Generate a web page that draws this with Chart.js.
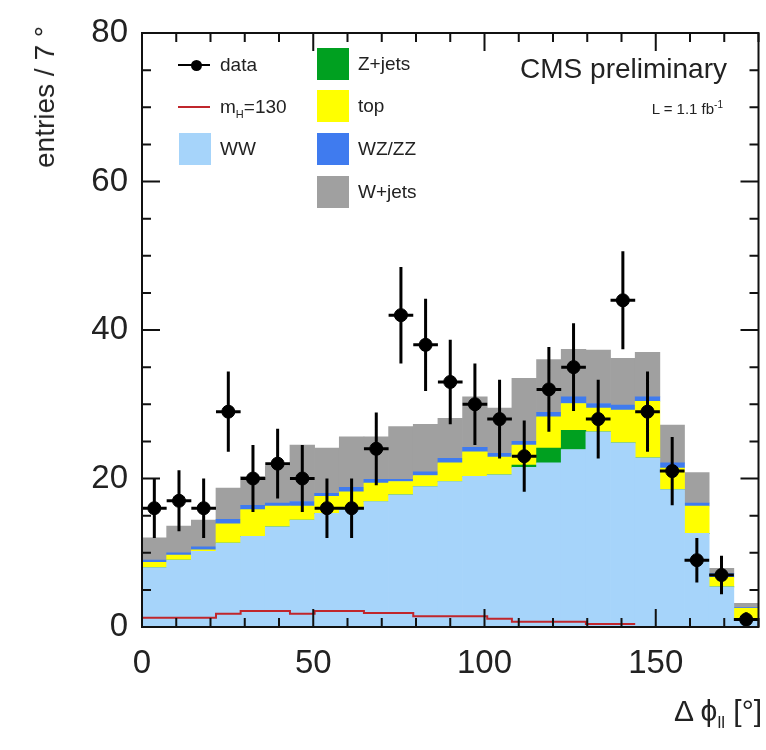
<!DOCTYPE html>
<html>
<head>
<meta charset="utf-8">
<script src="https://cdn.jsdelivr.net/npm/chart.js@4"></script>
<style>
  body { margin: 0; background: #fff; }
  #wrap { position: relative; width: 766px; height: 750px; font-family: "Liberation Sans", Arial, sans-serif; color: #222; }
  #wrap canvas { position: absolute; left: 0; top: 0; }
  .lbl { position: absolute; white-space: nowrap; }
  .leg { position: absolute; font-size: 19px; line-height: 22px; white-space: nowrap; }
  .box { position: absolute; width: 32px; height: 32px; }
</style>
</head>
<body>
<div id="wrap">
  <canvas id="theGraph" width="766" height="750"></canvas>

  <div class="lbl" style="left:28px;top:26px;font-size:28px;line-height:34px;writing-mode:vertical-rl;transform:rotate(180deg);">entries / 7 °</div>
  <div class="lbl" style="right:4px;top:694px;font-size:30px;line-height:34px;">Δ ϕ<sub style="font-size:17px;">ll</sub> [°]</div>

  <div class="lbl" style="right:39px;top:53px;font-size:28px;line-height:32px;">CMS preliminary</div>
  <div class="lbl" style="right:43px;top:96px;font-size:15px;line-height:18px;">L = 1.1 fb<sup style="font-size:10px;">-1</sup></div>

  <!-- legend, column 1 -->
  <div style="position:absolute;left:178px;top:64px;width:32px;height:2px;background:#000;"></div>
  <div style="position:absolute;left:191px;top:60px;width:11px;height:11px;border-radius:50%;background:#000;"></div>
  <div class="leg" style="left:220px;top:54px;">data</div>
  <div style="position:absolute;left:178px;top:106px;width:32px;height:2px;background:#c0262c;"></div>
  <div class="leg" style="left:220px;top:96px;">m<sub style="font-size:11px;">H</sub>=130</div>
  <div class="box" style="left:179px;top:133px;background:#a6d4fa;"></div>
  <div class="leg" style="left:220px;top:138px;">WW</div>

  <!-- legend, column 2 -->
  <div class="box" style="left:317px;top:48px;background:#00a020;"></div>
  <div class="leg" style="left:358px;top:53px;">Z+jets</div>
  <div class="box" style="left:317px;top:90px;background:#ffff00;"></div>
  <div class="leg" style="left:358px;top:95px;">top</div>
  <div class="box" style="left:317px;top:133px;background:#3f7bef;"></div>
  <div class="leg" style="left:358px;top:138px;">WZ/ZZ</div>
  <div class="box" style="left:317px;top:176px;background:#a0a0a0;"></div>
  <div class="leg" style="left:358px;top:181px;">W+jets</div>
</div>

<script>
// bins of 7.2 deg from 0 to 180
var binCenters = [3.6, 10.8, 18, 25.2, 32.4, 39.6, 46.8, 54, 61.2, 68.4, 75.6, 82.8, 90,
                  97.2, 104.4, 111.6, 118.8, 126, 133.2, 140.4, 147.6, 154.8, 162, 169.2, 176.4];
var binHalf = 3.6;

// data points and their error bars
var dataCounts = [16, 17, 16, 29, 20, 22, 20, 16, 16, 24, 42, 38, 33, 30, 28, 23, 32, 35, 28, 44, 29, 21, 9, 7, 1];
var dataErr = [4, 4.1, 4, 5.4, 4.5, 4.7, 4.5, 4, 4, 4.9, 6.5, 6.2, 5.7, 5.5, 5.3, 4.8, 5.7, 5.9, 5.3, 6.6, 5.4, 4.6, 3, 2.6, 1];

// stacked backgrounds, bottom to top
var ww = [8.0, 9.0, 10.2, 11.3, 12.2, 13.5, 14.4, 15.3, 15.8, 16.9, 17.8, 18.9, 19.6, 20.3, 20.5, 21.5, 22.1, 23.9, 26.3, 24.8, 22.8, 18.5, 12.6, 5.4, 0.9];
var zjets = [0, 0, 0, 0, 0, 0, 0, 0, 0, 0, 0, 0, 0, 0, 0, 0.3, 2.0, 2.6, 0, 0, 0, 0, 0, 0, 0];
var topq = [0.7, 0.7, 0.2, 2.6, 3.6, 2.8, 1.9, 2.3, 2.4, 2.5, 1.8, 1.5, 2.5, 3.3, 2.4, 2.7, 4.2, 3.6, 3.2, 4.4, 7.6, 2.9, 3.7, 1.3, 1.6];
var wzzz = [0.3, 0.3, 0.4, 0.6, 0.6, 0.4, 0.6, 0.4, 0.6, 0.5, 0.3, 0.5, 0.6, 0.6, 0.5, 0.5, 0.6, 0.9, 0.6, 0.7, 0.6, 0.7, 0.4, 0.5, 0.1];
var wjets = [3.0, 3.6, 3.6, 4.2, 3.9, 5.0, 7.6, 6.1, 6.8, 5.7, 7.1, 6.4, 5.4, 6.8, 6.1, 8.5, 7.1, 6.4, 7.2, 6.3, 6.0, 5.1, 4.1, 0.7, 0.6];

// signal mH=130, step line from bin edges
var binEdges = [0, 7.2, 14.4, 21.6, 28.8, 36, 43.2, 50.4, 57.6, 64.8, 72, 79.2, 86.4, 93.6, 100.8, 108, 115.2, 122.4, 129.6, 136.8, 144];
var mh130 = [1.25, 1.25, 1.25, 1.8, 2.15, 2.15, 1.8, 2.15, 2.15, 1.9, 1.9, 1.45, 1.45, 1.45, 1.1, 0.7, 0.7, 0.7, 0.4, 0.4];

// tick labels
var xTickLabels = [0, 50, 100, 150];
var yTickLabels = [0, 20, 40, 60, 80];

function pts(vals) {
  return vals.map(function (v, i) { return { x: binCenters[i], y: v }; });
}

function stepPts() {
  var out = mh130.map(function (v, i) { return { x: binEdges[i], y: v }; });
  out.push({ x: binEdges[binEdges.length - 1], y: mh130[mh130.length - 1] });
  return out;
}

function bg(label, vals, color) {
  return {
    type: 'bar', label: label, data: pts(vals), backgroundColor: color,
    borderWidth: 0, stack: 'bg', order: 2,
    barPercentage: 1, categoryPercentage: 1
  };
}

// error bars: vertical stat. error, horizontal bin width
var errorBars = {
  id: 'errorBars',
  afterDatasetsDraw: function (chart) {
    var ctx = chart.ctx, x = chart.scales.x, y = chart.scales.y;
    ctx.save();
    ctx.strokeStyle = '#000';
    ctx.lineWidth = 3;
    ctx.beginPath();
    for (var i = 0; i < dataCounts.length; i++) {
      var px = x.getPixelForValue(binCenters[i]);
      var py = y.getPixelForValue(dataCounts[i]);
      ctx.moveTo(px, y.getPixelForValue(dataCounts[i] - dataErr[i]));
      ctx.lineTo(px, y.getPixelForValue(dataCounts[i] + dataErr[i]));
      ctx.moveTo(x.getPixelForValue(binCenters[i] - binHalf), py);
      ctx.lineTo(x.getPixelForValue(binCenters[i] + binHalf), py);
    }
    ctx.stroke();
    ctx.restore();
  }
};

// box around the plot with inward ticks on all four sides
var frameTicks = {
  id: 'frameTicks',
  afterDatasetsDraw: function (chart) {
    var ctx = chart.ctx, a = chart.chartArea, x = chart.scales.x, y = chart.scales.y;
    ctx.save();
    ctx.strokeStyle = '#111';
    ctx.lineWidth = 2;
    ctx.strokeRect(a.left, a.top, a.right - a.left, a.bottom - a.top);
    ctx.beginPath();
    x.ticks.forEach(function (t) {
      var px = x.getPixelForValue(t.value);
      var len = xTickLabels.indexOf(t.value) >= 0 ? 18 : 9;
      ctx.moveTo(px, a.bottom); ctx.lineTo(px, a.bottom - len);
      ctx.moveTo(px, a.top); ctx.lineTo(px, a.top + len);
    });
    y.ticks.forEach(function (t) {
      var py = y.getPixelForValue(t.value);
      var len = yTickLabels.indexOf(t.value) >= 0 ? 18 : 9;
      ctx.moveTo(a.left, py); ctx.lineTo(a.left + len, py);
      ctx.moveTo(a.right, py); ctx.lineTo(a.right - len, py);
    });
    ctx.stroke();
    ctx.restore();
  }
};

var ctx = document.getElementById('theGraph').getContext('2d');
Chart.defaults.font.family = '"Liberation Sans", Arial, sans-serif';

var chart = new Chart(ctx, {
  type: 'bar',
  data: {
    datasets: [
      {
        type: 'scatter', label: 'data', data: pts(dataCounts),
        backgroundColor: '#000', borderColor: '#000', pointRadius: 6.5, order: 0
      },
      {
        type: 'line', label: 'mH=130', data: stepPts(), stepped: true,
        borderColor: '#c0262c', borderWidth: 2, pointRadius: 0, fill: false, order: 1
      },
      bg('WW', ww, '#a6d4fa'),
      bg('Z+jets', zjets, '#00a020'),
      bg('top', topq, '#ffff00'),
      bg('WZ/ZZ', wzzz, '#3f7bef'),
      bg('W+jets', wjets, '#a0a0a0')
    ]
  },
  options: {
    responsive: false,
    animation: false,
    layout: { padding: { top: 33, right: 4, left: 0, bottom: 0 } },
    plugins: { legend: { display: false }, tooltip: { enabled: false } },
    scales: {
      x: {
        type: 'linear', min: 0, max: 180, offset: false,
        grid: { display: false, offset: false, drawTicks: false },
        border: { display: false },
        ticks: {
          stepSize: 10, autoSkip: false, maxRotation: 0, padding: 17,
          color: '#222', font: { size: 33 },
          callback: function (v) { return xTickLabels.indexOf(v) >= 0 ? v : ''; }
        },
        afterFit: function (s) { s.height = 123; s.paddingLeft = 0; s.paddingRight = 0; }
      },
      y: {
        min: 0, max: 80,
        grid: { display: false, drawTicks: false },
        border: { display: false },
        ticks: {
          stepSize: 5, autoSkip: false, padding: 14,
          color: '#222', font: { size: 33 },
          callback: function (v) { return yTickLabels.indexOf(v) >= 0 ? v : ''; }
        },
        afterFit: function (s) { s.width = 142; s.paddingTop = 0; s.paddingBottom = 0; }
      }
    }
  },
  plugins: [errorBars, frameTicks]
});
console.log("chart area: ", chart.chartArea);
</script>
</body>
</html>
